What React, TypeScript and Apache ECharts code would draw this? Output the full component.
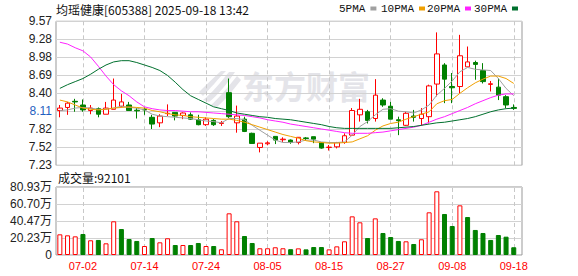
import React, { useEffect, useRef } from 'react';
import * as echarts from 'echarts';

const dates = [
  '06-27', '06-30', '07-01', '07-02', '07-03', '07-04', '07-07', '07-08', '07-09', '07-10',
  '07-11', '07-14', '07-15', '07-16', '07-17', '07-18', '07-21', '07-22', '07-23', '07-24',
  '07-25', '07-28', '07-29', '07-30', '07-31', '08-01', '08-04', '08-05', '08-06', '08-07',
  '08-08', '08-11', '08-12', '08-13', '08-14', '08-15', '08-18', '08-19', '08-20', '08-21',
  '08-22', '08-25', '08-26', '08-27', '08-28', '08-29', '09-01', '09-02', '09-03', '09-04',
  '09-05', '09-08', '09-09', '09-10', '09-11', '09-12', '09-15', '09-16', '09-17', '09-18',
];

const opens = [
  8.12, 8.17, 8.27, 8.21, 8.12, 8.15, 8.06, 8.14, 8.19, 8.21,
  8.125, 8.14, 8.01, 7.92, 8.07, 8.09, 8.04, 8.05, 7.97, 7.89,
  7.96, 7.91, 8.41, 7.92, 7.98, 7.75, 7.52, 7.58, 7.7, 7.645,
  7.64, 7.6, 7.675, 7.695, 7.6, 7.52, 7.53, 7.6, 7.72, 8.05,
  8.1, 7.99, 8.29, 8.19, 7.97, 7.88, 8.03, 7.99, 8.02, 8.55,
  8.86, 8.51, 8.51, 8.83, 8.9, 8.77, 8.545, 8.5, 8.345, 8.17,
];
const closes = [
  8.16, 8.24, 8.26, 8.13, 8.16, 8.06, 8.16, 8.29, 8.26, 8.12,
  8.115, 8.13, 7.9, 8.03, 8.075, 8.03, 8.08, 7.98, 7.89, 7.98,
  7.89, 7.92, 8.02, 8.03, 7.78, 7.585, 7.59, 7.595, 7.64, 7.655,
  7.6, 7.685, 7.665, 7.655, 7.51, 7.525, 7.6, 7.71, 8.12, 8.14,
  7.96, 8.37, 8.21, 7.98, 7.955, 8.075, 8.01, 8.06, 8.52, 9.04,
  8.63, 8.49, 9.01, 8.91, 8.87, 8.59, 8.555, 8.37, 8.21, 8.155,
];
const lows = [
  8.01, 8.05, 8.1, 8.1, 8.06, 8.01, 8.06, 8.14, 8.17, 8.12,
  7.99, 8.05, 7.82, 7.85, 8.03, 7.96, 7.98, 7.97, 7.88, 7.87,
  7.87, 7.87, 8.0, 7.76, 7.77, 7.58, 7.44, 7.555, 7.575, 7.61,
  7.58, 7.57, 7.64, 7.59, 7.5, 7.47, 7.505, 7.58, 7.71, 7.94,
  7.91, 7.94, 8.18, 7.98, 7.72, 7.87, 7.94, 7.87, 7.91, 8.35,
  8.24, 8.24, 8.4, 8.83, 8.62, 8.56, 8.43, 8.29, 8.16, 8.13,
];
const highs = [
  8.21, 8.26, 8.31, 8.3, 8.21, 8.17, 8.26, 8.64, 8.39, 8.26,
  8.16, 8.17, 8.05, 8.06, 8.22, 8.09, 8.09, 8.09, 8.05, 8.01,
  7.98, 7.95, 8.64, 8.2, 8.02, 7.76, 7.59, 7.62, 7.7, 7.685,
  7.65, 7.69, 7.69, 7.695, 7.6, 7.56, 7.61, 7.75, 8.16, 8.31,
  8.13, 8.63, 8.32, 8.26, 8.02, 8.1, 8.13, 8.16, 8.54, 9.39,
  8.89, 8.73, 9.35, 9.16, 8.93, 8.89, 8.6, 8.64, 8.37, 8.22,
];

const ma5 = [
  8.12, 8.13, 8.16, 8.17, 8.16, 8.14, 8.14, 8.16, 8.19, 8.17,
  8.16, 8.13, 8.06, 8.03, 8.02, 8.01, 8.0, 7.99, 7.97, 7.95,
  7.94, 7.92, 7.99, 7.99, 7.97, 7.88, 7.8, 7.72, 7.64, 7.6,
  7.6, 7.61, 7.64, 7.64, 7.61, 7.6, 7.6, 7.61, 7.72, 7.86,
  7.94, 8.05, 8.14, 8.15, 8.11, 8.1, 8.08, 8.13, 8.21, 8.37,
  8.48, 8.6, 8.75, 8.82, 8.79, 8.78, 8.77, 8.64, 8.48, 8.36,
];
const ma10 = [
  8.29, 8.26, 8.21, 8.16, 8.14, 8.13, 8.14, 8.16, 8.17, 8.18,
  8.17, 8.16, 8.12, 8.1, 8.07, 8.05, 8.04, 8.02, 8.01, 8.0,
  7.99, 7.98, 7.98, 7.96, 7.93, 7.89, 7.85, 7.81, 7.77, 7.73,
  7.7, 7.67, 7.63, 7.61, 7.6, 7.59, 7.59, 7.6, 7.61, 7.66,
  7.71, 7.8, 7.87, 7.91, 7.93, 7.98, 8.02, 8.06, 8.1, 8.23,
  8.28, 8.3, 8.4, 8.49, 8.57, 8.63, 8.68, 8.68, 8.64, 8.56,
];
const ma20 = [
  9.23, 9.2, 9.14, 9.09, 8.99, 8.84, 8.68, 8.54, 8.44, 8.36,
  8.26, 8.18, 8.15, 8.13, 8.12, 8.12, 8.11, 8.1, 8.1, 8.09,
  8.08, 8.07, 8.06, 8.05, 8.04, 8.02, 8.0, 7.97, 7.95, 7.93,
  7.9, 7.88, 7.86, 7.84, 7.82, 7.8, 7.78, 7.76, 7.75, 7.75,
  7.75, 7.76, 7.77, 7.79, 7.81, 7.83, 7.85, 7.88, 7.93, 7.98,
  8.02, 8.07, 8.12, 8.17, 8.23, 8.28, 8.33, 8.37, 8.39, 8.39,
];
const ma30 = [
  8.48, 8.54, 8.59, 8.64, 8.71, 8.79, 8.86, 8.91, 8.93, 8.93,
  8.9, 8.86, 8.82, 8.77, 8.69, 8.58, 8.46, 8.36, 8.3, 8.24,
  8.18, 8.15, 8.12, 8.08, 8.06, 8.04, 8.02, 8.01, 7.99, 7.98,
  7.97, 7.95, 7.93, 7.91, 7.89, 7.86, 7.84, 7.83, 7.83, 7.83,
  7.83, 7.83, 7.83, 7.83, 7.84, 7.85, 7.86, 7.88, 7.9, 7.92,
  7.93, 7.95, 7.97, 7.99, 8.02, 8.06, 8.1, 8.13, 8.15, 8.16,
];

const volumes = [
  246000, 234000, 222000, 250000, 175000, 179000, 139000, 401000, 309000, 190000,
  167000, 107000, 202000, 151000, 199000, 119000, 119000, 119000, 143000, 107000,
  107000, 68000, 496000, 401000, 226000, 143000, 80000, 80000, 92000, 80000,
  69000, 79000, 67000, 95000, 95000, 67000, 103000, 163000, 460000, 389000,
  202000, 436000, 262000, 214000, 167000, 163000, 131000, 187000, 508000, 758000,
  488000, 345000, 591000, 452000, 298000, 262000, 179000, 238000, 218000, 92101,
];

const maNames = ['5PMA', '10PMA', '20PMA', '30PMA'];
const maColors = ['#a0a0a0', '#f0a000', '#ff22ff', '#00702e'];
const maData = [ma5, ma10, ma20, ma30];

const priceTicks = ['7.23', '7.52', '7.82', '8.11', '8.40', '8.69', '8.98', '9.28', '9.57'];
const PRICE_MIN = 7.23;
const PRICE_MAX = 9.57;
const PRICE_STEP = 0.2925;
const volTicks = ['0', '20.23万', '40.47万', '60.70万', '80.93万'];
const VOL_MAX = 809300;
const VOL_STEP = 202325;

const titleText = '均瑶健康[605388] 2025-09-18 13:42';

const RED = '#ff0000';
const GREEN = '#008000';
const SANS = "'Liberation Sans', 'Noto Sans CJK SC', sans-serif";

const LOGO_D =
  'M4 30 C12 24 22 12 30 2 L36 2 C28 14 18 26 10 32 Z ' +
  'M12 35 C20 28 30 16 38 6 L42 10 C34 20 26 30 18 37 Z ' +
  'M0 22 C6 16 14 8 22 1 L27 1 C19 9 11 19 4 26 Z';
let logoRegistered = false;
function ensureLogo() {
  if (logoRegistered) return;
  echarts.graphic.registerShape('emlogo', echarts.graphic.extendPath(LOGO_D, {}) as any);
  logoRegistered = true;
}

export default function App() {
  const ref = useRef<HTMLDivElement>(null);

  useEffect(() => {
    if (!ref.current) return;
    ensureLogo();
    const chart = echarts.init(ref.current, undefined, { renderer: 'svg' });

    const candleData = dates.map((_, i) => [opens[i], closes[i], lows[i], highs[i]]);
    const volData = volumes.map((v, i) => {
      const up = i === 0 ? closes[0] >= opens[0] : closes[i] >= closes[i - 1];
      return {
        value: v,
        itemStyle: up
          ? { color: '#ffffff', borderColor: RED, borderWidth: 1 }
          : { color: GREEN, borderColor: GREEN, borderWidth: 1 },
      };
    });
    const labelDates = dates.filter((_, i) => (i - 3) % 8 === 0);
    const vLines = {
      silent: true,
      symbol: ['none', 'none'],
      label: { show: false },
      emphasis: { disabled: true },
      lineStyle: { color: '#c8c8c8', type: [4, 3], width: 1 },
      data: labelDates.map((d) => ({ xAxis: d })),
      z: 1,
    };

    const priceIdx = (v: number) =>
      Math.max(0, Math.min(priceTicks.length - 1, Math.round((v - PRICE_MIN) / PRICE_STEP)));
    const volIdx = (v: number) =>
      Math.max(0, Math.min(volTicks.length - 1, Math.round(v / VOL_STEP)));

    const legendLefts = [339, 381, 427, 474];

    const option: any = {
      animation: false,
      title: {
        text: titleText,
        left: 56,
        top: 3,
        padding: 0,
        textStyle: { fontSize: 12, fontWeight: 'normal', color: '#111', fontFamily: "'Noto Sans CJK SC', sans-serif" },
      },
      legend: maNames.map((name, k) => ({
        data: [name],
        left: legendLefts[k],
        top: 3,
        padding: 0,
        align: 'right',
        icon: 'rect',
        itemWidth: 6,
        itemHeight: 4,
        selectedMode: false,
        textStyle: { fontSize: 11, fontFamily: "'Liberation Mono', monospace", color: '#111' },
      })),
      grid: [
        { left: 56, top: 21.3, width: 461.6, height: 144 },
        { left: 56, top: 187, width: 461.6, height: 68 },
        { left: 56, top: 21.3, width: 466, height: 144, show: true, borderColor: '#999', borderWidth: 1, backgroundColor: 'transparent' },
        { left: 56, top: 187, width: 466, height: 68, show: true, borderColor: '#999', borderWidth: 1, backgroundColor: 'transparent' },
      ],
      xAxis: [
        {
          type: 'category', gridIndex: 0, data: dates, boundaryGap: true,
          axisLine: { show: false }, axisTick: { show: false }, axisLabel: { show: false }, splitLine: { show: false },
        },
        {
          type: 'category', gridIndex: 1, data: dates, boundaryGap: true,
          axisLine: { show: false }, axisTick: { show: false }, splitLine: { show: false },
          axisLabel: {
            interval: (i: number) => (i - 3) % 8 === 0,
            color: RED, fontSize: 11, fontFamily: SANS, margin: 5,
          },
        },
        { type: 'value', gridIndex: 2, show: false, min: 0, max: 1 },
        { type: 'value', gridIndex: 3, show: false, min: 0, max: 1 },
      ],
      yAxis: [
        { type: 'value', gridIndex: 0, min: PRICE_MIN, max: PRICE_MAX, show: false },
        { type: 'value', gridIndex: 1, min: 0, max: VOL_MAX, show: false },
        {
          type: 'value', gridIndex: 2, min: PRICE_MIN, max: PRICE_MAX, interval: PRICE_STEP,
          axisLine: { show: false }, axisTick: { show: false },
          splitLine: { show: true, lineStyle: { color: '#d2d2d2', width: 1 } },
          axisLabel: {
            margin: 4,
            formatter: (v: number) => {
              const k = priceIdx(v);
              return k === 3 ? `{b|${priceTicks[k]}}` : `{n|${priceTicks[k]}}`;
            },
            rich: {
              n: { color: '#222', fontSize: 12, fontFamily: SANS },
              b: { color: '#1f5fbf', fontSize: 12, fontFamily: SANS },
            },
          },
        },
        {
          type: 'value', gridIndex: 3, min: 0, max: VOL_MAX, interval: VOL_STEP,
          axisLine: { show: false }, axisTick: { show: false },
          splitLine: { show: true, lineStyle: { color: '#d2d2d2', width: 1 } },
          axisLabel: {
            margin: 4, color: '#222', fontSize: 12, fontFamily: SANS,
            formatter: (v: number) => volTicks[volIdx(v)],
          },
        },
      ],
      graphic: [
        {
          type: 'emlogo', x: 199, y: 70, scaleX: 1, scaleY: 1, silent: true, z: 0,
          style: { fill: '#e4e4e9' },
        },
        {
          type: 'text', left: 242, top: 69, silent: true, z: 0,
          style: { text: '东方财富', fill: '#e4e4e9', font: "bold 32px 'Noto Sans CJK SC'" },
        },
        {
          type: 'text', left: 58, top: 171, silent: true,
          style: { text: '成交量:' + volumes[volumes.length - 1], fill: '#111', font: "12px 'Noto Sans CJK SC'" },
        },
      ],
      series: [
        {
          name: 'K',
          type: 'candlestick',
          xAxisIndex: 0, yAxisIndex: 0,
          data: candleData,
          barWidth: 5,
          itemStyle: { color: '#ffffff', color0: GREEN, borderColor: RED, borderColor0: GREEN, borderWidth: 1 },
          markLine: vLines,
        },
        ...maNames.map((name, k) => ({
          name,
          type: 'line',
          xAxisIndex: 0, yAxisIndex: 0,
          data: maData[k],
          symbol: 'none',
          showSymbol: false,
          color: maColors[k],
          itemStyle: { color: maColors[k] },
          lineStyle: { color: maColors[k], width: 1 },
          z: 3,
        })),
        {
          name: 'VOL',
          type: 'bar',
          xAxisIndex: 1, yAxisIndex: 1,
          data: volData,
          barWidth: 5,
          markLine: vLines,
        },
      ],
    };

    chart.setOption(option);
    return () => chart.dispose();
  }, []);

  return <div ref={ref} style={{ position: 'absolute', left: 0, top: 0, width: 578, height: 276 }} />;
}
